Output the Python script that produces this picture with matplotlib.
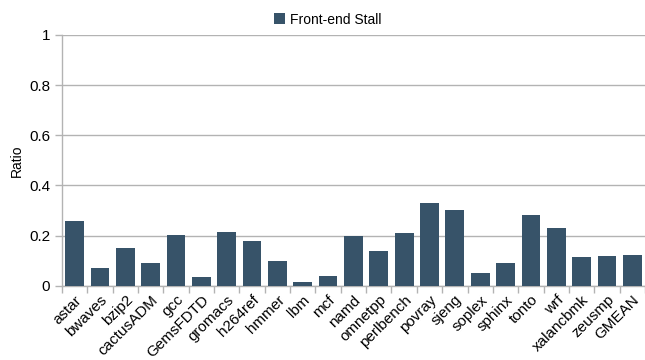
import numpy as np
import matplotlib.pyplot as plt

plt.rcParams['font.family'] = ['Liberation Sans', 'DejaVu Sans']

benchmarks = ['astar', 'bwaves', 'bzip2', 'cactusADM', 'gcc', 'GemsFDTD', 'gromacs',
              'h264ref', 'hmmer', 'lbm', 'mcf', 'namd', 'omnetpp', 'perlbench', 'povray',
              'sjeng', 'soplex', 'sphinx', 'tonto', 'wrf', 'xalancbmk', 'zeusmp', 'GMEAN']
frontend_stall = [0.258, 0.071, 0.150, 0.090, 0.202, 0.035, 0.214,
                  0.178, 0.099, 0.015, 0.039, 0.198, 0.138, 0.210, 0.330,
                  0.302, 0.051, 0.090, 0.282, 0.230, 0.114, 0.118, 0.122]

fig = plt.figure(figsize=(6.45, 3.6), dpi=100)
ax = fig.add_axes([0.096, 0.206, 0.904, 0.697])

x = np.arange(len(benchmarks))
ax.bar(x, frontend_stall, width=0.74, color='#375369', label='Front-end Stall', zorder=3)

ax.set_xlim(-0.5, len(benchmarks) - 0.5)
ax.set_ylim(0, 1)
ax.set_yticks(np.arange(0, 1.01, 0.2))
ax.set_yticklabels(['0', '0.2', '0.4', '0.6', '0.8', '1'])
ax.grid(axis='y', color='#b3b3b3', linewidth=1, zorder=0)

ax.set_xticks(x)
ax.set_xticklabels(benchmarks, rotation=45, ha='right', rotation_mode='anchor', fontsize=11)
ax.set_xticks(np.arange(-0.5, len(benchmarks), 1), minor=True)
ax.tick_params(axis='x', which='major', length=0, pad=5)
ax.tick_params(axis='x', which='minor', length=5, color='#b3b3b3', width=1)
ax.tick_params(axis='y', length=5, color='#b3b3b3', width=1, labelsize=11)

for s in ['top', 'right']:
    ax.spines[s].set_visible(False)
for s in ['left', 'bottom']:
    ax.spines[s].set_color('#b3b3b3')
    ax.spines[s].set_linewidth(1)

ax.set_ylabel('Ratio', fontsize=10)
fig.legend(loc='upper center', bbox_to_anchor=(0.508, 1.0), frameon=False, fontsize=10,
           handlelength=0.8, handleheight=0.8, handletextpad=0.4)

fig.savefig('out.png', dpi=100)
